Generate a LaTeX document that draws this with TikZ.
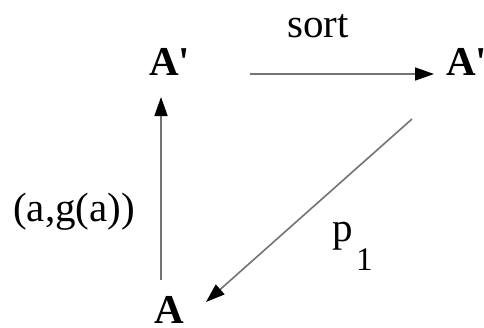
\documentclass[tikz,border=0pt]{standalone}
\usepackage{fontspec}
\newfontfamily\tnr{Liberation Serif}
\usetikzlibrary{arrows.meta}
\definecolor{linegray}{RGB}{115,115,115}
\tikzset{
  lbl/.style={inner sep=0pt, anchor=base west, font=\tnr\fontsize{41}{49}\selectfont},
  obj/.style={inner sep=0pt, anchor=base west, font=\tnr\fontsize{41}{49}\selectfont\bfseries},
  sub/.style={inner sep=0pt, anchor=base west, font=\tnr\fontsize{33}{40}\selectfont},
  arr/.style={draw=linegray, line width=1.6pt, -{Triangle[length=19pt,width=13pt,fill=black,color=black]}}
}
\begin{document}
\begin{tikzpicture}[x=1pt,y=-1pt]
\useasboundingbox (0,0) rectangle (484,327);
\node[obj] (tl) at (149,75) {A'};
\node[obj] (tr) at (446,75) {A'};
\node[obj] (bo) at (154,323) {A};
\node[lbl] (sort) at (287,37) {sort};
\node[lbl] (pair) at (13,221) {(a,g(a))};
\node[lbl] (p) at (332,241) {p};
\node[sub] (one) at (356,270) {1};
\coordinate (h1) at (250,74);
\coordinate (h2) at (434,74);
\coordinate (v1) at (161,280);
\coordinate (v2) at (161,97);
\coordinate (d1) at (412,119);
\coordinate (d2) at (206,302);
\draw[arr] (h1) -- (h2);
\draw[arr] (v1) -- (v2);
\draw[arr] (d1) -- (d2);
\end{tikzpicture}
\end{document}
